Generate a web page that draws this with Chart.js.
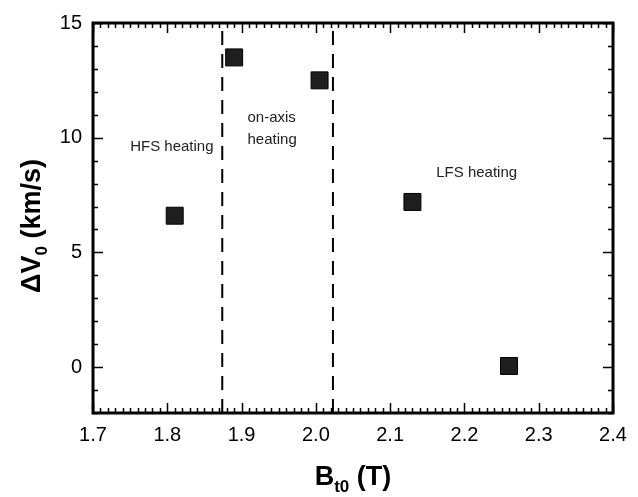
<!DOCTYPE html>
<html>
<head>
<meta charset="utf-8">
<script src="https://cdn.jsdelivr.net/npm/chart.js@4/dist/chart.umd.min.js"></script>
<style>
    html, body { margin: 0; padding: 0; background: #ffffff; }
    #wrap { width: 638px; height: 497px; }
</style>
</head>
<body>
<div id="wrap"><canvas id="heatingChart" width="638" height="497"></canvas></div>
<script>
// B_t0 (T) vs toroidal rotation change
const bField = [1.81, 1.89, 2.005, 2.13, 2.26];
const deltaV = [6.6, 13.5, 12.5, 7.2, 0.05];

const xTickValues = [1.7, 1.8, 1.9, 2.0, 2.1, 2.2, 2.3, 2.4];
const yTickValues = [0, 5, 10, 15];

// resonance boundaries (dashed lines)
const boundaries = [1.874, 2.023];

const regionLabels = [['HFS heating'], ['on-axis', 'heating'], ['LFS heating']];
// where each label sits, in data units (left edge, first baseline)
const regionLabelAnchors = [[1.75, 9.4], [1.908, 10.7], [2.162, 8.3]];

const X_MIN = 1.7, X_MAX = 2.4, Y_MIN = -2, Y_MAX = 15;

const frameAndTicks = {
    id: 'frameAndTicks',
    afterDraw(chart) {
        const ctx = chart.ctx;
        const area = chart.chartArea;
        const xs = chart.scales.x;
        const ys = chart.scales.y;

        ctx.save();
        ctx.strokeStyle = '#000';

        // minor + major ticks, pointing inward, on all four sides
        ctx.lineWidth = 1.5;
        for (let i = 0; i <= 70; i++) {
            const v = X_MIN + i * 0.01;
            const px = Math.round(xs.getPixelForValue(v)) + 0.5;
            const len = i % 10 === 0 ? 10 : 5;
            ctx.beginPath();
            ctx.moveTo(px, area.bottom);
            ctx.lineTo(px, area.bottom - len);
            ctx.moveTo(px, area.top);
            ctx.lineTo(px, area.top + len);
            ctx.stroke();
        }
        for (let v = Y_MIN; v <= Y_MAX; v++) {
            const py = Math.round(ys.getPixelForValue(v)) + 0.5;
            const len = v % 5 === 0 ? 10 : 5;
            ctx.beginPath();
            ctx.moveTo(area.left, py);
            ctx.lineTo(area.left + len, py);
            ctx.moveTo(area.right, py);
            ctx.lineTo(area.right - len, py);
            ctx.stroke();
        }

        ctx.lineWidth = 3;
        ctx.strokeRect(area.left, area.top, area.right - area.left, area.bottom - area.top);

        // region labels
        ctx.fillStyle = '#222';
        ctx.font = '15px "Liberation Sans", Arial, sans-serif';
        ctx.textAlign = 'left';
        ctx.textBaseline = 'alphabetic';
        regionLabels.forEach((lines, i) => {
            const px = xs.getPixelForValue(regionLabelAnchors[i][0]);
            const py = ys.getPixelForValue(regionLabelAnchors[i][1]);
            lines.forEach((line, j) => ctx.fillText(line, px, py + j * 22));
        });

        // axis titles with subscripts
        const big = 'bold 27px "Liberation Sans", Arial, sans-serif';
        const small = 'bold 17px "Liberation Sans", Arial, sans-serif';

        function drawSubTitle(parts, cx, cy) {
            let total = 0;
            parts.forEach(p => { ctx.font = p.sub ? small : big; total += ctx.measureText(p.t).width; });
            let x = cx - total / 2;
            parts.forEach(p => {
                ctx.font = p.sub ? small : big;
                ctx.fillText(p.t, x, cy + (p.sub ? 7 : 0));
                x += ctx.measureText(p.t).width;
            });
        }

        ctx.fillStyle = '#000';
        drawSubTitle([{ t: 'B' }, { t: 't0', sub: true }, { t: ' (T)' }], 353, 485);

        ctx.save();
        ctx.translate(40, 226);
        ctx.rotate(-Math.PI / 2);
        drawSubTitle([{ t: 'ΔV' }, { t: '0', sub: true }, { t: ' (km/s)' }], 0, 0);
        ctx.restore();

        ctx.restore();
    }
};

const boundaryDatasets = boundaries.map(b => ({
    type: 'line',
    data: [{ x: b, y: Y_MIN }, { x: b, y: Y_MAX }],
    borderColor: '#000',
    borderWidth: 2,
    borderDash: [14, 9],
    pointRadius: 0,
    fill: false
}));

new Chart(document.getElementById('heatingChart'), {
    type: 'scatter',
    data: {
        datasets: [
            {
                data: bField.map((b, i) => ({ x: b, y: deltaV[i] })),
                pointStyle: 'rect',
                pointRadius: 12,
                pointHoverRadius: 12,
                backgroundColor: '#1e1e1e',
                borderColor: '#000',
                borderWidth: 1
            },
            ...boundaryDatasets
        ]
    },
    options: {
        responsive: false,
        animation: false,
        layout: { padding: { top: 16, right: 25, left: 0, bottom: 0 } },
        plugins: { legend: { display: false }, tooltip: { enabled: false } },
        scales: {
            x: {
                type: 'linear',
                min: X_MIN,
                max: X_MAX,
                afterBuildTicks: scale => { scale.ticks = xTickValues.map(v => ({ value: v })); },
                afterFit: scale => { scale.height = 84; },
                grid: { display: false, drawTicks: false },
                border: { display: false },
                ticks: {
                    padding: 10,
                    color: '#000',
                    font: { family: '"Liberation Sans", Arial, sans-serif', size: 20 },
                    callback: v => Number(v).toFixed(1)
                }
            },
            y: {
                type: 'linear',
                min: Y_MIN,
                max: Y_MAX,
                afterBuildTicks: scale => { scale.ticks = yTickValues.map(v => ({ value: v })); },
                afterFit: scale => { scale.width = 93; },
                grid: { display: false, drawTicks: false },
                border: { display: false },
                ticks: {
                    padding: 11,
                    color: '#000',
                    font: { family: '"Liberation Sans", Arial, sans-serif', size: 20 },
                    callback: v => String(v)
                }
            }
        }
    },
    plugins: [frameAndTicks]
});
</script>
</body>
</html>
